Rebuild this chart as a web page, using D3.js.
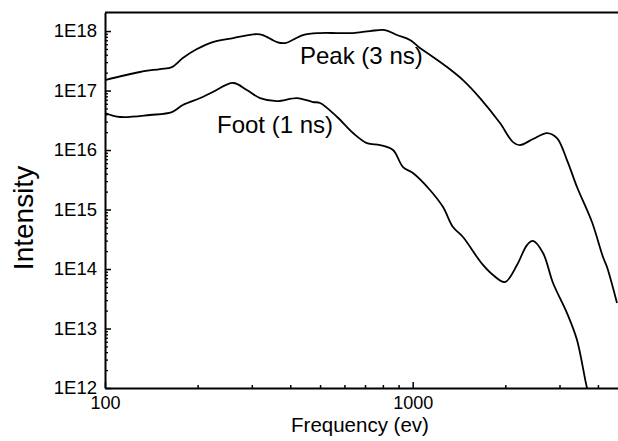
<!DOCTYPE html>
<html>
<head>
<meta charset="utf-8">
<script src="https://cdn.jsdelivr.net/npm/d3@7/dist/d3.min.js"></script>
<style>
  html, body { margin: 0; padding: 0; background: #fff; }
  svg { display: block; font-family: "Liberation Sans", Arial, sans-serif; }
</style>
</head>
<body>
<svg id="chart" width="618" height="441"></svg>
<script>
// ---- Data ----
const peakFreq = [100, 130, 151, 165, 179, 199, 224, 261, 312, 326, 362, 385, 440, 500, 568, 640, 727, 813, 889, 980, 1056, 1164, 1293, 1457, 1655, 1922, 2118, 2232, 2460, 2733, 2944, 3173, 3420, 3825, 4155, 4281, 4613];
const peakInt  = [1.5e17, 2.05e17, 2.3e17, 2.48e17, 3.52e17, 4.98e17, 6.53e17, 7.62e17, 8.91e17, 8.57e17, 6.53e17, 6.28e17, 8.57e17, 9.25e17, 9.25e17, 9.25e17, 1.0e18, 1.04e18, 8.57e17, 7.06e17, 5.18e17, 3.66e17, 2.48e17, 1.5e17, 7.48e16, 2.84e16, 1.36e16, 1.21e16, 1.53e16, 1.93e16, 1.59e16, 6.79e15, 2.39e15, 6.17e14, 1.59e14, 1.08e14, 2.68e13];

const footFreq = [100, 112, 140, 165, 179, 204, 224, 261, 289, 319, 362, 421, 474, 500, 568, 640, 710, 783, 863, 930, 1002, 1138, 1255, 1352, 1457, 1618, 1692, 1824, 1995, 2183, 2352, 2460, 2652, 2858, 3173, 3420, 3686, 3790];
const footInt  = [4.19e16, 3.59e16, 3.88e16, 4.35e16, 5.7e16, 7.48e16, 9.44e16, 1.34e17, 1.02e17, 7.48e16, 6.66e16, 7.48e16, 6.41e16, 6.17e16, 3.59e16, 1.93e16, 1.31e16, 1.21e16, 1.0e16, 5.18e15, 4.1e15, 2.13e15, 1.1e15, 5.08e14, 3.45e14, 1.59e14, 1.17e14, 7.93e13, 6.05e13, 1.17e14, 2.53e14, 2.96e14, 1.86e14, 5.82e13, 1.82e13, 6.41e12, 1.0e12, 6.3e11];

const xDomain = [100, 4648];
const yDomain = [1e12, 2.05e18];
const xMajorTicks = [100, 1000];
const xMinorTicks = [200, 300, 400, 500, 600, 700, 800, 900, 2000, 3000, 4000];
const yMajorTicks = [1e12, 1e13, 1e14, 1e15, 1e16, 1e17, 1e18];
const yMajorLabels = ["1E12", "1E13", "1E14", "1E15", "1E16", "1E17", "1E18"];
const yMinorTicks = [];
[12, 13, 14, 15, 16, 17].forEach(e => { for (let m = 2; m <= 9; m++) yMinorTicks.push(m * Math.pow(10, e)); });

const seriesLabels = ["Peak (3 ns)", "Foot (1 ns)"];
const xTitle = "Frequency (ev)";
const yTitle = "Intensity";

// ---- Layout ----
const mL = 105, mR = 618, mT = 12.5, mB = 388;
const svg = d3.select("#chart");
const x = d3.scaleLog().domain(xDomain).range([mL, mR]);
const y = d3.scaleLog().domain(yDomain).range([mB, mT]);

svg.append("defs").append("clipPath").attr("id", "plotclip")
  .append("rect").attr("x", mL).attr("y", mT).attr("width", mR - mL).attr("height", mB - mT);

// top border
svg.append("line").attr("x1", mL).attr("x2", mR).attr("y1", mT).attr("y2", mT)
  .attr("stroke", "#000").attr("stroke-width", 2);

// Y axis major
const yAxis = d3.axisLeft(y).tickValues(yMajorTicks)
  .tickFormat((d, i) => yMajorLabels[i]).tickSizeInner(-6).tickSizeOuter(0).tickPadding(14);
const gy = svg.append("g").attr("transform", `translate(${mL},0)`).call(yAxis);
gy.select(".domain").attr("stroke-width", 2);
gy.selectAll(".tick line").attr("stroke-width", 1.5);
gy.selectAll(".tick text").attr("font-size", 18.5).attr("fill", "#000")
  .attr("font-family", "'Liberation Sans', Arial, sans-serif").attr("x", -8);
// Y minor
const yMinor = d3.axisLeft(y).tickValues(yMinorTicks).tickFormat("").tickSizeInner(-3).tickSizeOuter(0);
const gym = svg.append("g").attr("transform", `translate(${mL},0)`).call(yMinor);
gym.select(".domain").remove();
gym.selectAll(".tick line").attr("stroke-width", 1.3);

// X axis major
const xAxis = d3.axisBottom(x).tickValues(xMajorTicks).tickFormat(d3.format("d"))
  .tickSizeInner(-6).tickSizeOuter(0).tickPadding(10);
const gx = svg.append("g").attr("transform", `translate(0,${mB})`).call(xAxis);
gx.select(".domain").attr("stroke-width", 2);
gx.selectAll(".tick line").attr("stroke-width", 1.5);
gx.selectAll(".tick text").attr("font-size", 18).attr("fill", "#000")
  .attr("font-family", "'Liberation Sans', Arial, sans-serif").attr("y", 8);
const xMinor = d3.axisBottom(x).tickValues(xMinorTicks).tickFormat("").tickSizeInner(-3).tickSizeOuter(0);
const gxm = svg.append("g").attr("transform", `translate(0,${mB})`).call(xMinor);
gxm.select(".domain").remove();
gxm.selectAll(".tick line").attr("stroke-width", 1.5);

// Curves
const line = d3.line().x(d => x(d[0])).y(d => y(d[1])).curve(d3.curveCatmullRom.alpha(0.5));
const plot = svg.append("g").attr("clip-path", "url(#plotclip)");
plot.append("path").datum(peakFreq.map((f, i) => [f, peakInt[i]]))
  .attr("d", line).attr("fill", "none").attr("stroke", "#000").attr("stroke-width", 1.8);
plot.append("path").datum(footFreq.map((f, i) => [f, footInt[i]]))
  .attr("d", line).attr("fill", "none").attr("stroke", "#000").attr("stroke-width", 1.8);

// Series labels
svg.append("text").attr("x", 300).attr("y", 64).attr("font-size", 24).attr("fill", "#000").text(seriesLabels[0]);
svg.append("text").attr("x", 217).attr("y", 133).attr("font-size", 24).attr("fill", "#000").text(seriesLabels[1]);

// Axis titles
svg.append("text").attr("x", 360).attr("y", 432).attr("text-anchor", "middle")
  .attr("font-size", 20.5).attr("fill", "#000").text(xTitle);
svg.append("text").attr("transform", "translate(33,218) rotate(-90)").attr("text-anchor", "middle")
  .attr("font-size", 28).attr("fill", "#000").text(yTitle);
</script>
</body>
</html>
